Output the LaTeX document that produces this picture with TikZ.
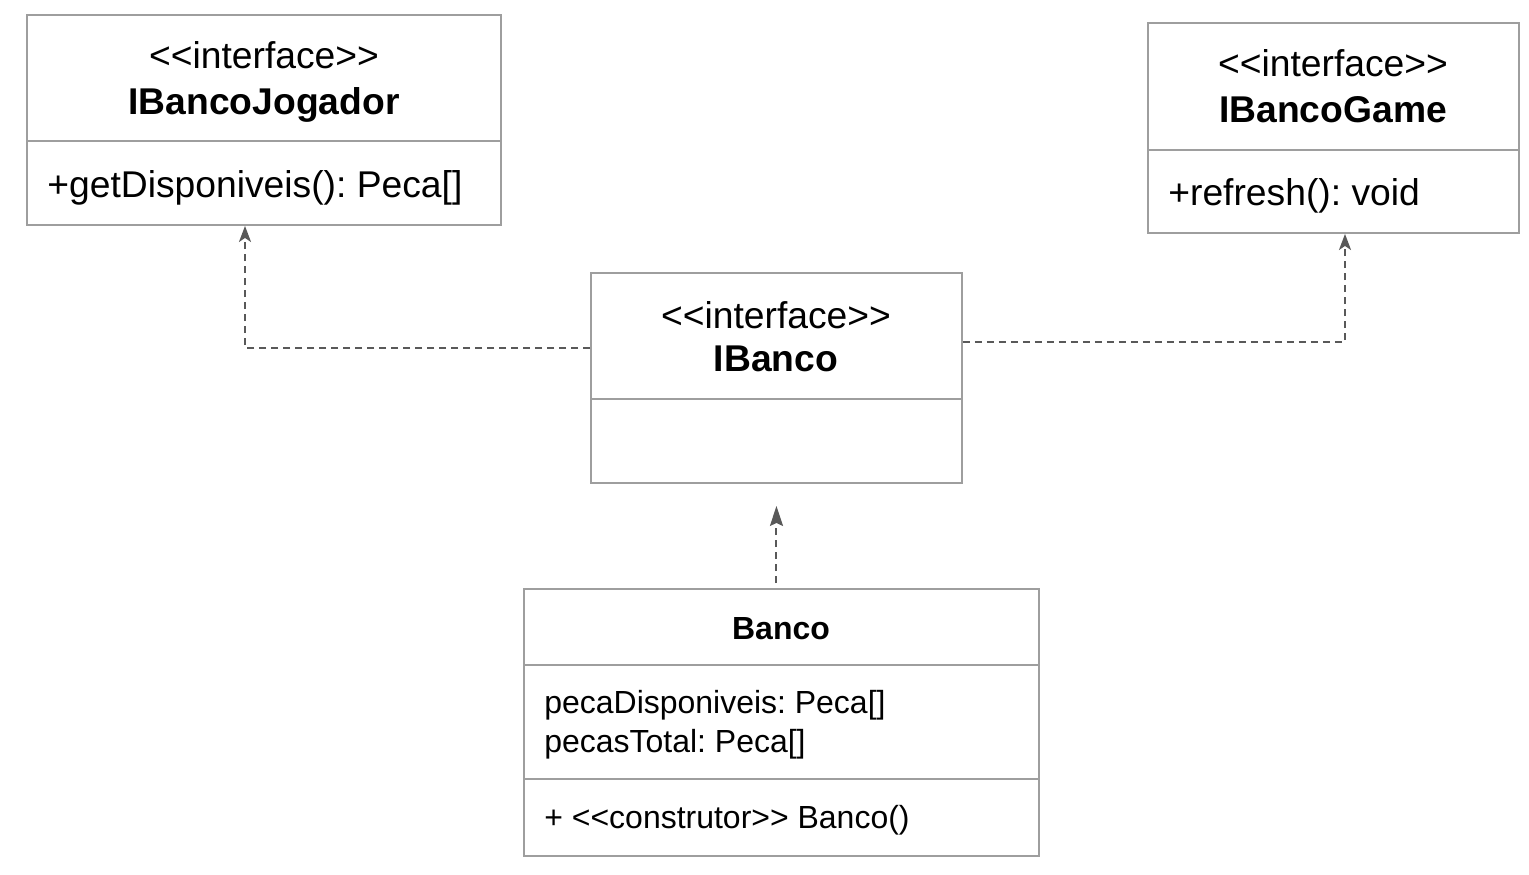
\documentclass[tikz,border=0pt]{standalone}
\usepackage{fontspec}
\setmainfont{Liberation Sans}[Ligatures=TeXOff]
\usepackage{tikz}
\usetikzlibrary{arrows.meta,positioning}
\frenchspacing

\definecolor{boxgray}{HTML}{9E9E9E}
\definecolor{arrowgray}{HTML}{595959}

\tikzset{
	umlbox/.style={draw=boxgray,line width=0.04cm,inner sep=0pt,anchor=north west},
	umlline/.style={draw=boxgray,line width=0.04cm},
	dep/.style={draw=arrowgray,line width=0.04cm,dash pattern=on 0.15cm off 0.09cm},
	big/.style={font=\fontsize{21.2}{25}\selectfont,inner sep=0pt},
	small/.style={font=\fontsize{18.2}{22}\selectfont,inner sep=0pt}
}

\begin{document}
\begin{tikzpicture}[x=0.02cm,y=-0.02cm]

	\useasboundingbox (0,0) rectangle (1529,875);

	% boxes
	\node[umlbox,minimum width=9.48cm,minimum height=4.2cm] (IBancoJogador) at (26,14) {};
	\node[umlbox,minimum width=7.42cm,minimum height=4.2cm] (IBancoGame) at (1147,22) {};
	\node[umlbox,minimum width=7.42cm,minimum height=4.2cm] (IBanco) at (590,272) {};
	\node[umlbox,minimum width=10.3cm,minimum height=5.34cm] (Banco) at (523,588) {};

	\draw[umlline] (IBancoJogador.west |- 0,141) -- (IBancoJogador.east |- 0,141);
	\draw[umlline] (IBancoGame.west |- 0,150) -- (IBancoGame.east |- 0,150);
	\draw[umlline] (IBanco.west |- 0,399) -- (IBanco.east |- 0,399);
	\draw[umlline] (Banco.west |- 0,665) -- (Banco.east |- 0,665);
	\draw[umlline] (Banco.west |- 0,779) -- (Banco.east |- 0,779);

	% IBancoJogador
	\node[big,anchor=base] (jStereo) at (264,69) {<<interface>>};
	\node[big,anchor=base] (jName) at (264,115) {\bfseries IBancoJogador};
	\node[big,anchor=base west] (jOp) at (47,197) {+getDisponiveis(): Peca[]};

	% IBancoGame
	\node[big,anchor=base] (gStereo) at (1333,77) {<<interface>>};
	\node[big,anchor=base] (gName) at (1333,123) {\bfseries IBancoGame};
	\node[big,anchor=base west] (gOp) at (1168,205) {+refresh(): void};

	% IBanco
	\node[big,anchor=base] (iStereo) at (776,328) {<<interface>>};
	\node[big,anchor=base] (iName) at (776,371) {\bfseries IBanco};

	% Banco
	\node[small,anchor=base] (bName) at (781,639) {\bfseries Banco};
	\node[small,anchor=base west] (bAttr1) at (544,713) {pecaDisponiveis: Peca[]};
	\node[small,anchor=base west] (bAttr2) at (544,752) {pecasTotal: Peca[]};
	\node[small,anchor=base west] (bOp) at (544,828) {+ <<construtor>> Banco()};

	% realizations
	\coordinate (kJ) at (245,348);
	\coordinate (kG) at (1345,342);
	\draw[dep,-{Stealth[length=0.32cm,width=0.24cm,inset=0.08cm]}] (kJ -| IBanco.west) -- (kJ) -- (kJ |- IBancoJogador.south);
	\draw[dep,-{Stealth[length=0.32cm,width=0.24cm,inset=0.08cm]}] (kG -| IBanco.east) -- (kG) -- (kG |- IBancoGame.south);
	\draw[dep,shorten >=0.44cm,shorten <=0.1cm,-{Stealth[length=0.4cm,width=0.26cm,inset=0.06cm]}] (Banco.north -| IBanco.south) -- (IBanco.south);

\end{tikzpicture}
\end{document}
